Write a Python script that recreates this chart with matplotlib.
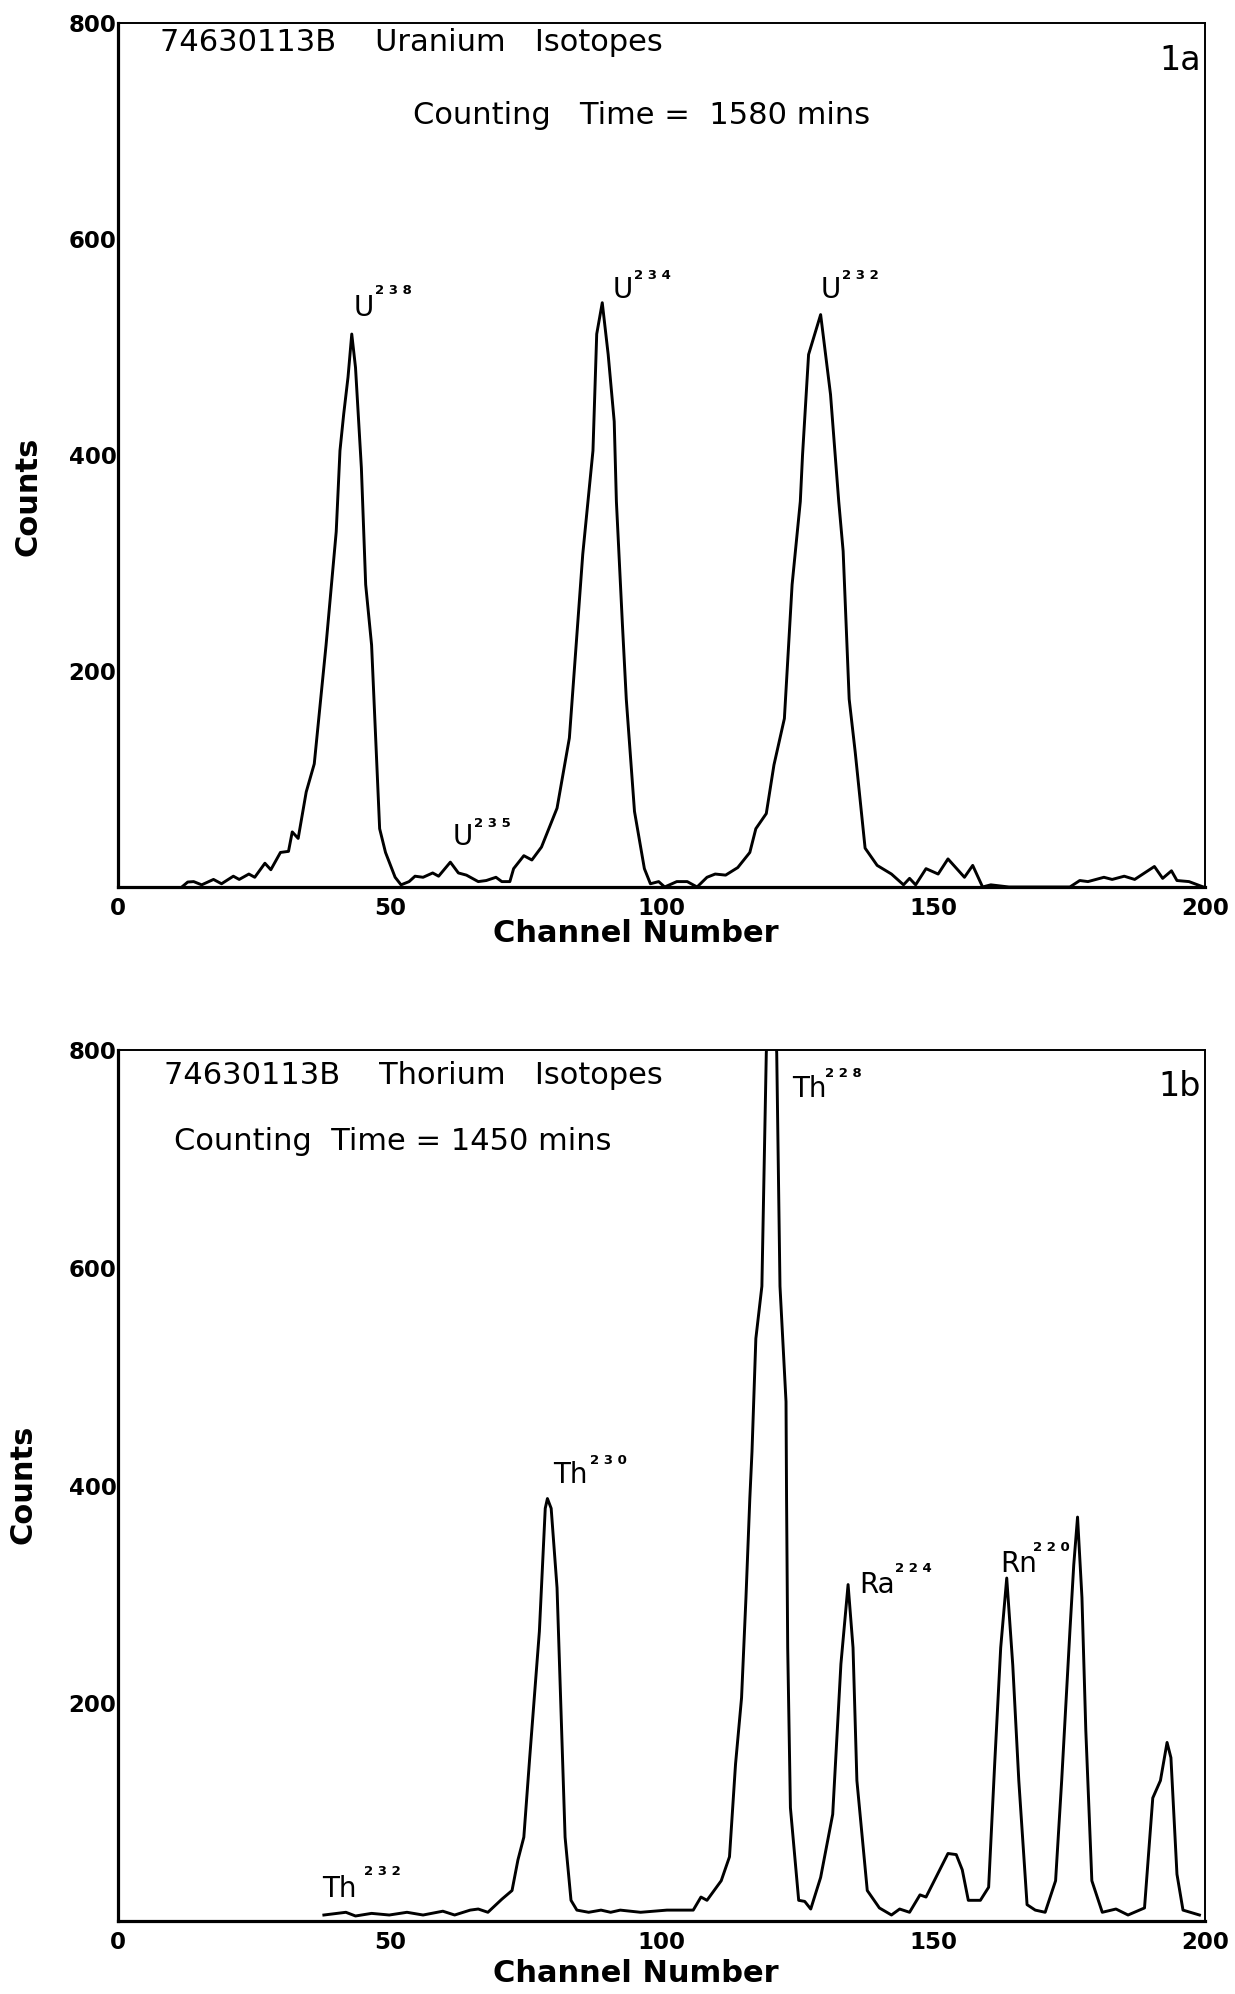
import matplotlib
matplotlib.use("agg")
import matplotlib.pyplot as plt
matplotlib.rcParams.update({"font.size": 14, "font.family": "DejaVu Sans"})

# Fig 1a: uranium alpha spectrum
u_channel = [11.75, 12.83, 13.92, 15.40, 17.57, 19.05, 21.22, 22.30, 24.08, 25.16, 27.03, 28.12,
             29.89, 31.37, 32.06, 33.15, 34.63, 36.11, 38.28, 40.15, 40.84, 41.53, 42.32, 43.01,
             43.70, 44.78, 45.57, 46.66, 48.14, 49.22, 50.99, 52.08, 53.56, 54.65, 56.13, 57.90,
             58.99, 61.15, 62.63, 64.11, 66.28, 67.76, 69.54, 70.62, 72.10, 72.79, 74.67, 76.15,
             77.92, 80.78, 83.05, 85.51, 87.39, 88.08, 89.10, 90.19, 91.30, 91.70, 92.81, 93.52,
             95.03, 96.85, 97.96, 99.48, 100.59, 102.81, 104.73, 106.55, 108.37, 109.88, 111.80,
             114.03, 116.25, 117.36, 119.28, 120.69, 122.61, 124.03, 125.54, 125.95, 127.06,
             129.28, 131.10, 132.61, 133.42, 134.53, 135.64, 137.46, 139.68, 142.31, 144.53,
             145.64, 146.76, 148.67, 150.90, 152.71, 155.74, 157.26, 159.08, 160.59, 163.93,
             175.14, 176.96, 178.47, 181.40, 182.92, 185.14, 187.06, 190.69, 192.21, 193.83,
             194.84, 197.06, 199.7]
u_counts = [0, 4.6, 5, 2, 7, 3, 10, 7, 12, 9, 22, 16,
            32, 33, 51, 45, 88, 114, 224, 329, 404, 438, 472, 512,
            481, 388, 280, 224, 54, 32, 9, 2, 5, 10, 9, 13,
            10, 23, 13, 11, 5, 6, 9, 5, 5, 17, 29, 25,
            37, 73, 138, 308, 404, 512, 541, 493, 431, 357, 243, 174,
            70, 17, 3, 5, 0, 5, 5, 0, 9, 12, 11,
            18, 32, 54, 68, 113, 156, 280, 357, 400, 493,
            530, 456, 357, 311, 174, 125, 36, 20, 12, 2,
            8, 2, 17, 12, 26, 9, 20, 0, 2, 0,
            0, 6, 5, 9, 7, 10, 7, 19, 8, 15,
            6, 5, 0]
u_peaks = ["U", "U", "U", "U"]
u_masses = ["238", "234", "232", "235"]

# Fig 1b: thorium alpha spectrum (Th228 peak runs off the top)
th_channel = [37.88, 41.93, 43.70, 46.66, 49.91, 53.17, 56.13, 59.77, 61.94, 64.80, 66.28, 68.06,
              70.62, 72.50, 73.58, 74.67, 75.75, 77.53, 78.61, 79.01, 79.70, 80.78, 82.26, 83.35,
              84.43, 86.60, 88.87, 90.64, 92.41, 96.15, 101.00, 105.84, 107.26, 108.37, 110.99,
              112.51, 113.62, 114.73, 115.54, 116.25, 116.65, 117.36, 118.47, 119.28, 120.19,
              121.20, 121.80, 122.91, 123.01, 123.22, 123.72, 125.24, 126.35, 127.46, 129.28,
              131.50, 133.01, 134.33, 135.24, 135.95, 137.86, 140.09, 142.31, 143.82, 145.64,
              147.56, 148.67, 150.49, 152.71, 154.23, 155.34, 156.45, 158.67, 160.19, 161.30,
              162.41, 163.52, 164.63, 165.74, 167.26, 168.77, 170.59, 172.51, 173.63, 175.14,
              175.85, 176.55, 177.36, 178.07, 179.18, 181.10, 183.62, 185.84, 188.87, 190.39,
              191.80, 193.02, 193.73, 194.84, 195.95, 198.98]
th_counts = [5.5, 8, 4.6, 7, 5.5, 8, 5.5, 9, 5.5, 10, 11, 8,
             20, 28, 56, 77, 150, 266, 379, 388, 379, 306, 77, 19,
             10, 8, 10, 8, 10, 8, 10, 10, 22, 19, 37,
             59, 144, 205, 297, 388, 431, 535, 583, 797, 900,
             797, 583, 477, 388, 251, 104, 19, 18, 11, 40,
             98, 236, 309, 251, 129, 28, 12, 5.5, 11, 8,
             24, 22, 40, 62, 61, 47, 19, 19, 31, 144,
             251, 315, 235, 129, 15, 10, 8, 37, 129, 266,
             327, 371, 297, 175, 37, 8, 11, 5.5, 12, 113,
             129, 164, 150, 43, 10, 5.5]
th_peaks = ["Th", "Th", "Ra", "Rn", "Th"]
th_masses = ["228", "230", "224", "220", "232"]

x_ticks = [0, 50, 100, 150, 200]
y_ticks = [200, 400, 600, 800]

W, H = 1235, 1994
fig = plt.figure(figsize=(W / 100, H / 100), dpi=100)


def make_axes(top_px, bottom_px):
    ax = fig.add_axes([118 / W, 1 - bottom_px / H, (1205 - 118) / W, (bottom_px - top_px) / H])
    ax.set_xlim(0, 200)
    ax.set_ylim(0, 800)
    ax.set_xticks(x_ticks)
    ax.set_yticks(y_ticks)
    ax.tick_params(axis="both", length=0, labelsize=16.5)
    ax.tick_params(axis="x", pad=7)
    ax.tick_params(axis="y", pad=1)
    plt.setp(ax.get_xticklabels(), fontweight="bold")
    plt.setp(ax.get_yticklabels(), fontweight="bold")
    for s in ["left", "bottom"]:
        ax.spines[s].set_linewidth(2.3)
    for s in ["top", "right"]:
        ax.spines[s].set_linewidth(1.4)
    return ax


def peak_label(ax, name, mass, pos, sup_pos):
    ax.text(pos[0], pos[1], name, fontsize=20, ha="left", va="baseline")
    ax.text(sup_pos[0], sup_pos[1], " ".join(mass), fontsize=9.5, fontweight="bold",
            ha="left", va="baseline")


# ---- 1a
ax1 = make_axes(23, 887)
ax1.plot(u_channel, u_counts, color="black", lw=2.1)
u_pos = [(43.4, 529), (91.0, 545), (129.2, 545), (61.65, 39)]
u_sup = [(47.25, 549), (95.0, 563), (133.3, 563), (65.5, 56)]
for name, mass, p, sp in zip(u_peaks, u_masses, u_pos, u_sup):
    peak_label(ax1, name, mass, p, sp)
ax1.text(0.0386, 0.977, "74630113B    Uranium   Isotopes", transform=ax1.transAxes,
         fontsize=22, ha="left", va="center")
ax1.text(0.271, 0.893, "Counting   Time =  1580 mins", transform=ax1.transAxes,
         fontsize=22, ha="left", va="center")
ax1.text(0.9965, 0.957, "1a", transform=ax1.transAxes, fontsize=24,
         ha="right", va="center")
fig.text(28 / W, 1 - 496 / H, "Counts", rotation=90, fontsize=22, fontweight="bold",
         ha="center", va="center")
fig.text(636 / W, 1 - 933 / H, "Channel Number", fontsize=22, fontweight="bold",
         ha="center", va="center")

# ---- 1b
ax2 = make_axes(1050, 1921)
ax2.plot(th_channel, th_counts, color="black", lw=2.1)
th_pos = [(124.1, 757), (80.0, 402), (136.35, 301), (162.4, 321), (37.5, 22)]
th_sup = [(130.0, 775), (86.9, 420), (143.0, 321), (168.4, 340), (45.2, 42)]
for name, mass, p, sp in zip(th_peaks, th_masses, th_pos, th_sup):
    peak_label(ax2, name, mass, p, sp)
ax2.text(0.0423, 0.971, "74630113B    Thorium   Isotopes", transform=ax2.transAxes,
         fontsize=22, ha="left", va="center")
ax2.text(0.0515, 0.895, "Counting  Time = 1450 mins", transform=ax2.transAxes,
         fontsize=22, ha="left", va="center")
ax2.text(0.9965, 0.958, "1b", transform=ax2.transAxes, fontsize=24,
         ha="right", va="center")
fig.text(23 / W, 1 - 1484 / H, "Counts", rotation=90, fontsize=22, fontweight="bold",
         ha="center", va="center")
fig.text(636 / W, 1 - 1973 / H, "Channel Number", fontsize=22, fontweight="bold",
         ha="center", va="center")

fig.savefig("out.png", dpi=100)
